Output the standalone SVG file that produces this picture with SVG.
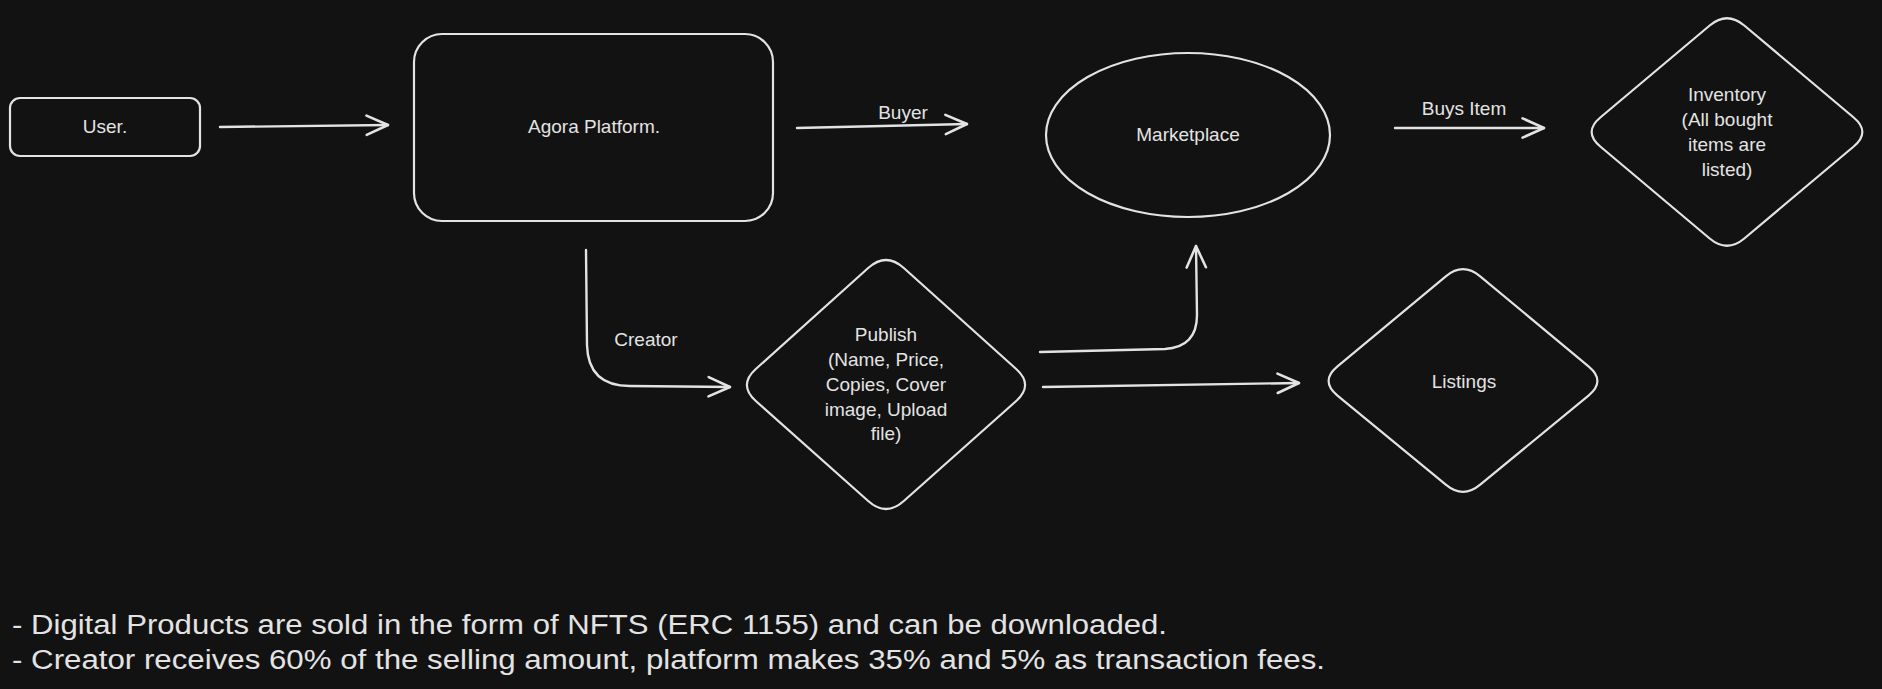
<svg xmlns="http://www.w3.org/2000/svg" width="1882" height="689" viewBox="0 0 1882 689">
<style>
.shape{fill:none;stroke:#e3e3e3;stroke-width:2.2;stroke-linejoin:round;stroke-linecap:round}
.edge{fill:none;stroke:#e3e3e3;stroke-width:2.4;stroke-linecap:round;stroke-linejoin:round}
.t{font-family:"Liberation Sans",Arial,sans-serif;font-size:19px;fill:#e3e3e3;text-anchor:middle}
.note{font-family:"Liberation Sans",Arial,sans-serif;font-size:27px;fill:#e3e3e3}
</style>
<defs>
<marker id="arr" markerUnits="userSpaceOnUse" markerWidth="30" markerHeight="30" refX="0" refY="0" viewBox="-24 -14 28 28" orient="auto" overflow="visible">
<path d="M -20,-9 L 0,0 L -20,9" fill="none" stroke="#e3e3e3" stroke-width="2.4" stroke-linecap="round" stroke-linejoin="round"/>
</marker>
</defs>
<rect width="1882" height="689" fill="#121212"/>
<g id="user">
<rect class="shape" x="10" y="98" width="190" height="58" rx="10"/>
<text class="t" x="105" y="133">User.</text>
</g>
<g id="agora">
<rect class="shape" x="414" y="34" width="359" height="187" rx="28"/>
<text class="t" x="594" y="133">Agora Platform.</text>
</g>
<g id="marketplace">
<ellipse class="shape" cx="1188" cy="135" rx="142" ry="82"/>
<text class="t" x="1188" y="141">Marketplace</text>
</g>
<g id="inventory">
<path class="shape" d="M 1744.3,25.5 L 1853.7,117.5 Q 1871,132 1853.7,146.5 L 1744.3,238.5 Q 1727,253 1709.7,238.5 L 1600.3,146.5 Q 1583,132 1600.3,117.5 L 1709.7,25.5 Q 1727,11 1744.3,25.5 Z"/>
<text class="t" x="1727" y="101">Inventory</text>
<text class="t" x="1727" y="126">(All bought</text>
<text class="t" x="1727" y="151">items are</text>
<text class="t" x="1727" y="176">listed)</text>
</g>
<g id="publish">
<path class="shape" d="M 903.8,268 L 1016.2,369 Q 1034,385 1016.2,401 L 903.8,501 Q 886,517 868.2,501 L 755.8,401 Q 738,385 755.8,369 L 868.2,268 Q 886,252 903.8,268 Z"/>
<text class="t" x="886" y="341">Publish</text>
<text class="t" x="886" y="366">(Name, Price,</text>
<text class="t" x="886" y="391">Copies, Cover</text>
<text class="t" x="886" y="416">image, Upload</text>
<text class="t" x="886" y="440">file)</text>
</g>
<g id="listings">
<path class="shape" d="M 1480.2,276.3 L 1588.8,366.7 Q 1606,381 1588.8,395.3 L 1480.2,484.7 Q 1463,499 1445.8,484.7 L 1337.2,395.3 Q 1320,381 1337.2,366.7 L 1445.8,276.3 Q 1463,262 1480.2,276.3 Z"/>
<text class="t" x="1464" y="388">Listings</text>
</g>
<g id="connectors">
<path class="edge" d="M 220,127 L 388,125" marker-end="url(#arr)"/>
<path class="edge" d="M 797,128 L 967,124" marker-end="url(#arr)"/>
<text class="t" x="903" y="119">Buyer</text>
<path class="edge" d="M 1395,128 L 1544,128" marker-end="url(#arr)"/>
<text class="t" x="1464" y="115">Buys Item</text>
<path class="edge" d="M 586,250 L 587,345 Q 588,386 630,386 L 730,387" marker-end="url(#arr)"/>
<text class="t" x="646" y="346">Creator</text>
<path class="edge" d="M 1040,352 L 1165,349 Q 1197,347 1197,315 L 1196,246" marker-end="url(#arr)"/>
<path class="edge" d="M 1043,387 L 1299,383" marker-end="url(#arr)"/>
</g>
<g id="notes">
<text class="note" x="12" y="634" textLength="1155" lengthAdjust="spacingAndGlyphs">- Digital Products are sold in the form of NFTS (ERC 1155) and can be downloaded.</text>
<text class="note" x="12" y="669" textLength="1313" lengthAdjust="spacingAndGlyphs">- Creator receives 60% of the selling amount, platform makes 35% and 5% as transaction fees.</text>
</g>
</svg>
